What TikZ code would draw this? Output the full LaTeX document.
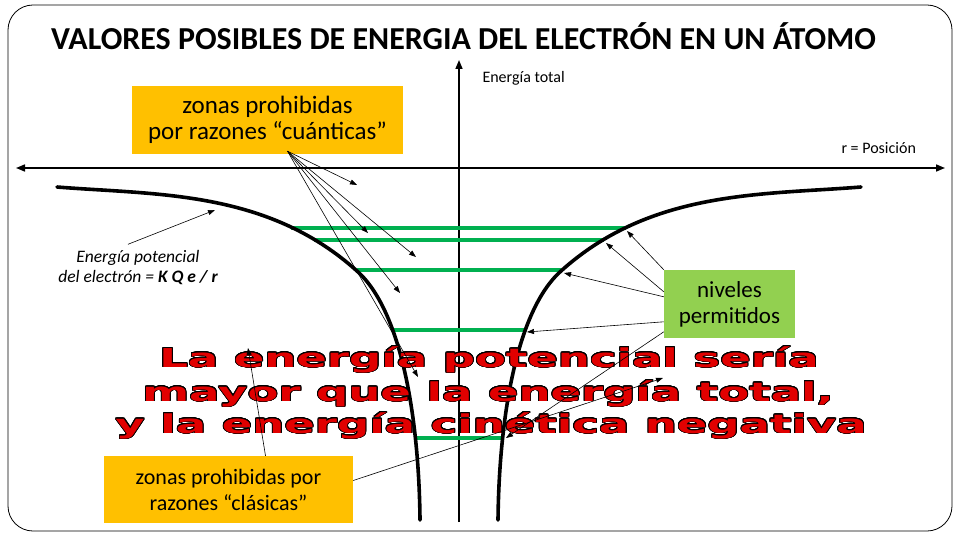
\documentclass[tikz,border=0pt]{standalone}
\usepackage{fontspec}
\setmainfont{Carlito}
\newfontfamily\artfont{DejaVu Sans}
\usepackage{graphicx}
\usepackage[copies]{contour}
\contourlength{0.5pt}
\contournumber{24}
\usetikzlibrary{calc,positioning,arrows.meta}
\definecolor{zonegold}{RGB}{255,192,0}
\definecolor{levelgreen}{RGB}{0,176,80}
\definecolor{boxgreen}{RGB}{146,208,80}
\definecolor{artred}{RGB}{225,0,0}

\begin{document}
\begin{tikzpicture}[x=1pt, y=-1pt,
  lbl/.style={-{Triangle[length=7pt,width=5pt]}, line width=0.6pt},
  axis/.style={line width=1.6pt},
  zonebox/.style={fill=zonegold, align=center, inner sep=0pt},
  artline/.style={anchor=base, text=artred,
    font=\artfont\bfseries\fontsize{26}{30}\selectfont}]
  \useasboundingbox (0,0) rectangle (960,540);
  % Frame
  \draw[line width=0.8pt, rounded corners=25pt] (8,5) rectangle (952,531);

  % Title
  \node[anchor=base, font=\bfseries\fontsize{32}{36}\selectfont] (title) at (463.5,50)
    {VALORES POSIBLES DE ENERGIA DEL ELECTRÓN EN UN ÁTOMO};

  % Axes
  \coordinate (xl) at (16,168);
  \coordinate (xr) at (945,168);
  \coordinate (yb) at (459,522);
  \coordinate (yt) at (459,60);
  \draw[axis, {Triangle[length=9pt,width=7pt]}-{Triangle[length=9pt,width=7pt]}] (xl) -- (xr);
  \draw[axis, -{Triangle[length=9pt,width=7pt]}] (yb) -- (yt);
  \node[anchor=base west, font=\fontsize{16}{18}\selectfont] (ylab) at (479,83) {Energía total};
  \node[anchor=base west, font=\fontsize{16}{18}\selectfont] (xlab) at (838,154) {r = Posición};

  % Allowed levels (drawn below the curves)
  \foreach \yy/\xa/\xb/\tx/\ty [count=\i] in
    {228/291/626/627/231, 240/314/604/606/243, 270/357/561/564/273,
     330/393/525/527/332, 438/415/503/506/438}{
    \draw[levelgreen, line width=4pt] (\xa,\yy) -- (\xb,\yy);
    \coordinate (nv\i) at (\tx,\ty);
  }

  % Potential energy curves
  \draw[line width=3.6pt, line cap=round]
    (57,187) .. controls (157,195) and (267,190) .. (357,271)
    .. controls (402,311) and (419,420) .. (420,520);
  \draw[line width=3.6pt, line cap=round]
    (861,187) .. controls (761,195) and (651,190) .. (561,271)
    .. controls (516,311) and (499,420) .. (498,520);

  % Boxes
  \node[zonebox, minimum width=271pt, minimum height=68pt,
    font=\fontsize{25}{26}\selectfont] (cuant) at (267.5,120)
    {zonas prohibidas\\por razones “cuánticas”};
  \node[zonebox, fill=boxgreen, minimum width=131pt, minimum height=68pt,
    font=\fontsize{23}{26}\selectfont] (niv) at (729.5,304)
    {niveles\\permitidos};
  \node[zonebox, minimum width=249pt, minimum height=67pt,
    font=\fontsize{22}{26}\selectfont] (clas) at (228.5,489.5)
    {zonas prohibidas por\\razones “clásicas”};
  \node[align=center, font=\itshape\fontsize{17.5}{20}\selectfont] (epot) at (138,268)
    {Energía potencial\\del electrón = \textbf{K Q e / r}};

  % Big warning text
  \node[artline] (bigA) at (489,367) {\scalebox{1.73}[1]{\contour{black}{La energía potencial sería}}};
  \node[artline] (bigB) at (488,401) {\scalebox{1.73}[1]{\contour{black}{mayor que la energía total,}}};
  \node[artline] (bigC) at (491,433) {\scalebox{1.73}[1]{\contour{black}{y la energía cinética negativa}}};

  % Quantum forbidden zones
  \foreach \tx/\ty [count=\i] in {357/185, 368/233, 416/257, 400/293, 418/377}{
    \coordinate (qz\i) at (\tx,\ty);
    \draw[lbl] ([xshift=20pt,yshift=3pt]cuant.south) -- (qz\i);
  }

  % Allowed levels arrows
  \foreach \i/\dy in {1/0, 2/22, 3/27, 4/52, 5/62}
    \draw[lbl] ([yshift=-\dy pt]niv.north west) -- (nv\i);

  % Classical forbidden zones
  \coordinate (cz1) at (248,348);
  \coordinate (cz2) at (663,378);
  \draw[lbl] ([xshift=37pt]clas.north) -- (cz1);
  \draw[lbl] ([yshift=9pt]clas.east) -- (cz2);

  % Potential energy pointer
  \coordinate (ep) at (215,210);
  \draw[lbl] ([xshift=-10pt,yshift=3pt]epot.north) -- (ep);
\end{tikzpicture}
\end{document}
